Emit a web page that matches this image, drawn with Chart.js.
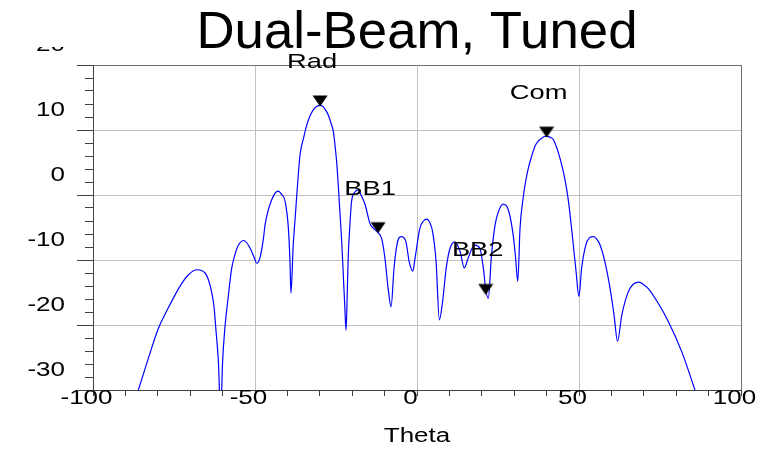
<!DOCTYPE html>
<html><head><meta charset="utf-8">
<script src="https://cdn.jsdelivr.net/npm/chart.js@4/dist/chart.umd.min.js"></script>
<style>html,body{margin:0;padding:0;background:#fff;overflow:hidden}</style>
</head><body>
<canvas id="c" width="761" height="449" style="display:block;width:761px;height:449px"></canvas>
<script>
// ---------------- data ----------------
const chartTitle = 'Dual-Beam, Tuned';
const xAxisTitle = 'Theta';
const thetaDeg = [
 -86.0,-82.9,-79.8,-77.3,-74.7,-72.6,-70.6,-68.0,-65.4,-64.2,-63.4,-62.6,-62.1,-61.3,-60.6,-60.0,-59.3,-58.2,-57.2,-56.2,
 -55.1,-53.4,-51.5,-50.2,-49.5,-48.5,-47.4,-46.9,-45.9,-44.9,-43.8,-42.8,-41.8,-40.7,-39.7,-39.2,-38.9,-38.2,-37.6,-37.1,
 -36.1,-35.0,-34.0,-33.0,-32.0,-31.0,-29.9,-29.0,-28.0,-27.4,-26.5,-25.8,-25.3,-24.8,-24.3,-23.8,-23.2,-22.7,-22.3,-21.9,
 -21.5,-21.2,-20.7,-20.2,-19.1,-18.2,-17.0,-16.0,-14.5,-13.5,-12.0,-10.9,-9.9,-8.9,-8.0,-7.1,-6.1,-5.4,-4.7,-4.0,
 -3.4,-2.4,-1.3,-0.6,0.9,2.0,3.0,4.0,4.8,5.9,6.9,7.9,9.0,10.2,11.7,13.3,14.6,15.8,17.0,17.9,
 19.4,20.5,21.2,22.0,23.0,24.1,25.1,26.6,28.2,29.7,30.4,31.1,31.8,32.8,33.5,34.4,35.4,36.4,37.4,38.5,
 39.3,40.0,41.0,42.1,43.1,44.1,45.7,46.7,47.7,49.0,50.0,50.8,52.1,53.2,54.4,55.5,56.5,58.0,59.6,60.8,
 61.9,63.2,65.2,66.8,68.5,70.0,71.4,74.5,77.6,81.7,85.8
];
const gainDb = [
 -30.0,-25.1,-20.5,-17.9,-15.4,-13.6,-12.3,-11.5,-12.0,-13.3,-14.9,-17.4,-20.5,-25.6,-34.0,-25.6,-20.5,-15.4,-11.3,-9.2,
 -7.7,-7.0,-8.2,-9.7,-10.5,-9.7,-6.7,-4.6,-2.3,-0.8,0.3,0.6,0.1,-1.0,-5.1,-10.3,-15.1,-7.7,-3.5,0.0,
 6.2,8.8,10.8,12.2,13.1,13.6,13.8,13.6,12.9,12.3,11.0,9.7,7.6,5.1,1.5,-2.6,-7.5,-12.8,-17.0,-20.8,
 -14.5,-9.2,-4.5,-1.0,0.5,0.8,-0.3,-1.5,-4.4,-5.1,-5.8,-6.7,-9.7,-14.4,-17.2,-11.3,-7.4,-6.5,-6.4,-6.6,
 -7.2,-10.3,-11.7,-9.7,-5.1,-4.0,-3.7,-4.3,-5.6,-10.3,-19.2,-16.4,-11.3,-8.2,-7.2,-8.7,-11.2,-9.7,-8.2,-7.7,
 -8.2,-11.3,-14.5,-15.9,-9.2,-4.6,-2.6,-1.4,-2.3,-6.2,-9.5,-13.3,-5.1,-0.3,2.0,4.2,6.0,7.5,8.3,8.75,
 9.0,9.05,8.9,8.5,7.3,5.7,2.3,-0.8,-5.1,-11.3,-15.6,-11.3,-7.7,-6.6,-6.4,-6.8,-7.7,-10.3,-14.4,-18.4,
 -22.5,-18.5,-14.9,-13.7,-13.4,-13.8,-14.4,-16.7,-19.5,-24.1,-30.0
];
const markerNames = ['Rad', 'BB1', 'BB2', 'Com'];
const markerTheta = [-29.9, -12.0, 21.2, 40.0];
const markerGain  = [13.7, -5.8, -15.3, 8.9];
const xTickLabels = [-100, -50, 0, 50, 100];
const yTickLabels = [-30, -20, -10, 0, 10, 20];

// ---------------- drawing ----------------
const canvas = document.getElementById('c');
const ctx = canvas.getContext('2d');
// horizontally widened small text, as in the reference rendering
const origFillText = ctx.fillText.bind(ctx);
ctx.fillText = function (t, x, y, mw) {
  const m = /(\d+(?:\.\d+)?)px/.exec(this.font);
  const size = m ? parseFloat(m[1]) : 12;
  const sx = size < 30 ? 1.3 : 1.015;
  this.save(); this.translate(x, y); this.scale(sx, 1); origFillText(t, 0, 0); this.restore();
};

const FAMILY = '"Liberation Sans", Arial, sans-serif';
const AXIS_DARK = '#404040';
const GRID = '#c0c0c0';
const FRAME = '#707070';

function makeTriangle() {
  const c = document.createElement('canvas');
  c.width = 16; c.height = 24;
  const g = c.getContext('2d');
  g.fillStyle = '#000';
  g.beginPath(); g.moveTo(0.5, 1.5); g.lineTo(15.5, 1.5); g.lineTo(8, 12.5); g.closePath(); g.fill();
  return c;
}
const tri = makeTriangle();

const decorPlugin = {
  id: 'decor',
  afterDatasetsDraw(chart) {
    const meta = chart.getDatasetMeta(0);
    const c = chart.ctx;
    c.save();
    c.font = '21px ' + FAMILY;
    c.fillStyle = '#000';
    c.textAlign = 'center';
    c.textBaseline = 'alphabetic';
    meta.data.forEach((p, i) => { c.fillText(markerNames[i], p.x - 8, p.y - 38); });
    c.restore();
  },
  afterDraw(chart) {
    const c = chart.ctx;
    const ys = chart.scales.y;
    const left = chart.chartArea.left;
    c.save();
    // long major ticks on the y axis
    c.strokeStyle = AXIS_DARK; c.lineWidth = 1;
    yTickLabels.forEach(v => {
      const py = Math.round(ys.getPixelForValue(v)) + 0.5;
      c.beginPath(); c.moveTo(left - 16, py); c.lineTo(left - 8, py); c.stroke();
    });
    // title band
    c.fillStyle = '#fff';
    c.fillRect(0, 0, chart.width, 47);
    c.fillStyle = '#000';
    c.font = '52px ' + FAMILY;
    c.textAlign = 'center';
    c.textBaseline = 'alphabetic';
    c.fillText(chartTitle, (chart.chartArea.left + chart.chartArea.right) / 2, 48);
    c.restore();
  }
};

new Chart(ctx, {
  type: 'line',
  data: {
    datasets: [
      {
        type: 'scatter',
        data: markerTheta.map((t, i) => ({ x: t, y: markerGain[i] })),
        pointStyle: tri, pointRadius: 8, pointHoverRadius: 8,
        showLine: false, order: 0
      },
      {
        data: thetaDeg.map((t, i) => ({ x: t, y: gainDb[i] })),
        borderColor: '#0000ff', borderWidth: 1.2, pointRadius: 0,
        cubicInterpolationMode: 'monotone', fill: false, order: 1
      }
    ]
  },
  options: {
    responsive: false, animation: false, devicePixelRatio: 1,
    layout: { padding: { top: 65, right: 20, left: 0, bottom: 0 } },
    plugins: { legend: { display: false }, tooltip: { enabled: false }, title: { display: false } },
    events: [],
    scales: {
      x: {
        type: 'linear', min: -100, max: 100,
        afterFit: s => { s.height = 59; s.paddingLeft = 0; s.paddingRight = 0; },
        ticks: {
          stepSize: 10, autoSkip: false, maxRotation: 0, minRotation: 0,
          padding: -10, labelOffset: -6.5, color: '#000',
          font: { family: FAMILY, size: 20 },
          callback: v => xTickLabels.includes(v) ? String(v) : ''
        },
        grid: {
          color: c => { const v = c.tick ? c.tick.value : 0; return v === 100 ? FRAME : (v % 50 === 0 && v !== -100 ? GRID : 'rgba(0,0,0,0)'); },
          tickColor: AXIS_DARK, tickLength: 6, lineWidth: 1
        },
        border: { color: AXIS_DARK, width: 1 },
        title: { display: true, text: xAxisTitle, color: '#000', font: { family: FAMILY, size: 20 }, padding: { top: 0, bottom: 1 } }
      },
      y: {
        type: 'linear', min: -30, max: 20,
        afterFit: s => { s.width = 93; s.paddingTop = 0; s.paddingBottom = 0; },
        ticks: {
          stepSize: 2, autoSkip: false, padding: 20, labelOffset: -20, color: '#000',
          font: { family: FAMILY, size: 20 },
          callback: v => yTickLabels.includes(v) ? String(v) : ''
        },
        grid: {
          color: c => { const v = c.tick ? c.tick.value : 0; return v === 20 ? FRAME : (v % 10 === 0 && v !== -30 ? GRID : 'rgba(0,0,0,0)'); },
          tickColor: AXIS_DARK, tickLength: 8, lineWidth: 1
        },
        border: { color: AXIS_DARK, width: 1 }
      }
    }
  },
  plugins: [decorPlugin]
});
</script>
</body></html>
